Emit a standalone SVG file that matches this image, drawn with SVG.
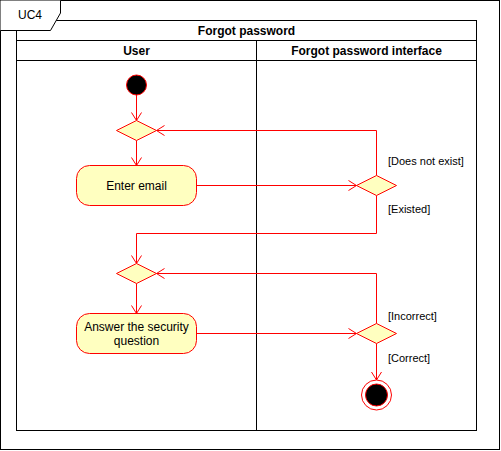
<svg xmlns="http://www.w3.org/2000/svg" width="501" height="451" viewBox="0 0 501 451">
<defs>
<style>
.frame{fill:none;stroke:#000;stroke-width:1}
.hdr{font-family:"Liberation Sans",Arial,sans-serif;font-size:12px;font-weight:bold;fill:#000;text-anchor:middle}
.txt{font-family:"Liberation Sans",Arial,sans-serif;font-size:12px;fill:#000;text-anchor:middle}
.guard{font-family:"Liberation Sans",Arial,sans-serif;font-size:11px;fill:#000}
.act{fill:#FFFFC0;stroke:#FF0000;stroke-width:1}
.edge{fill:none;stroke:#FF0000;stroke-width:1}
</style>
<marker id="arr" markerUnits="userSpaceOnUse" markerWidth="14" markerHeight="14" refX="10" refY="6" orient="auto" viewBox="0 0 14 12">
<path d="M2,1 L10,6 L2,11" fill="none" stroke="#FF0000" stroke-width="1"/>
</marker>
</defs>
<rect x="0" y="0" width="501" height="451" fill="#fff"/>
<g id="pool">
<rect class="frame" x="16.5" y="20.5" width="460" height="410"/>
<line class="frame" x1="16.5" y1="40.5" x2="476.5" y2="40.5"/>
<line class="frame" x1="16.5" y1="60.5" x2="476.5" y2="60.5"/>
<line class="frame" x1="256.5" y1="40.5" x2="256.5" y2="430.5"/>
<text class="hdr" x="246.5" y="35">Forgot password</text>
<text class="hdr" x="136.5" y="55">User</text>
<text class="hdr" x="366.5" y="55">Forgot password interface</text>
</g>
<g id="frame">
<rect class="frame" x="0.5" y="0.5" width="499" height="449"/>
<path d="M0.5,0.5 H60.5 V13 L50.5,30.5 H0.5 Z" fill="#fff" stroke="none"/>
<path class="frame" d="M0.5,30.5 H50.5 L60.5,13 V0.5"/>
<text class="txt" x="30" y="19" style="font-weight:normal">UC4</text>
</g>
<g id="connectors">
<line class="edge" x1="136.5" y1="95" x2="136.5" y2="120.5" marker-end="url(#arr)"/>
<line class="edge" x1="136.5" y1="140.5" x2="136.5" y2="165.5" marker-end="url(#arr)"/>
<line class="edge" x1="196.5" y1="185.5" x2="356.5" y2="185.5" marker-end="url(#arr)"/>
<path class="edge" d="M376.5,175.5 V130.5 H156.5" marker-end="url(#arr)"/>
<path class="edge" d="M376.5,195.5 V233.5 H136.5 V263.5" marker-end="url(#arr)"/>
<line class="edge" x1="136.5" y1="283.5" x2="136.5" y2="313.5" marker-end="url(#arr)"/>
<line class="edge" x1="196.5" y1="333.5" x2="356.5" y2="333.5" marker-end="url(#arr)"/>
<path class="edge" d="M376.5,323.5 V273.5 H156.5" marker-end="url(#arr)"/>
<line class="edge" x1="376.5" y1="343.5" x2="376.5" y2="380" marker-end="url(#arr)"/>
<text class="guard" x="388" y="165">[Does not exist]</text>
<text class="guard" x="388" y="213">[Existed]</text>
<text class="guard" x="388" y="320">[Incorrect]</text>
<text class="guard" x="388" y="362">[Correct]</text>
</g>
<g id="start">
<circle cx="136.5" cy="85" r="10" fill="#000" stroke="#FF0000"/>
</g>
<g id="merge1">
<path class="act" d="M116.5,130.5 L136.5,120.5 L156.5,130.5 L136.5,140.5 Z"/>
</g>
<g id="enterEmail">
<rect class="act" x="76.5" y="165.5" width="120" height="40" rx="13"/>
<text class="txt" x="136.5" y="189.5">Enter email</text>
</g>
<g id="decision1">
<path class="act" d="M356.5,185.5 L376.5,175.5 L396.5,185.5 L376.5,195.5 Z"/>
</g>
<g id="merge2">
<path class="act" d="M116.5,273.5 L136.5,263.5 L156.5,273.5 L136.5,283.5 Z"/>
</g>
<g id="answer">
<rect class="act" x="76.5" y="313.5" width="120" height="40" rx="13"/>
<text class="txt" x="136.5" y="330.5">Answer the security</text>
<text class="txt" x="136.5" y="344.5">question</text>
</g>
<g id="decision2">
<path class="act" d="M356.5,333.5 L376.5,323.5 L396.5,333.5 L376.5,343.5 Z"/>
</g>
<g id="end">
<circle cx="376.5" cy="395" r="15" fill="#fff" stroke="#FF0000"/>
<circle cx="376.5" cy="395" r="11" fill="#000" stroke="#FF0000"/>
</g>
</svg>
